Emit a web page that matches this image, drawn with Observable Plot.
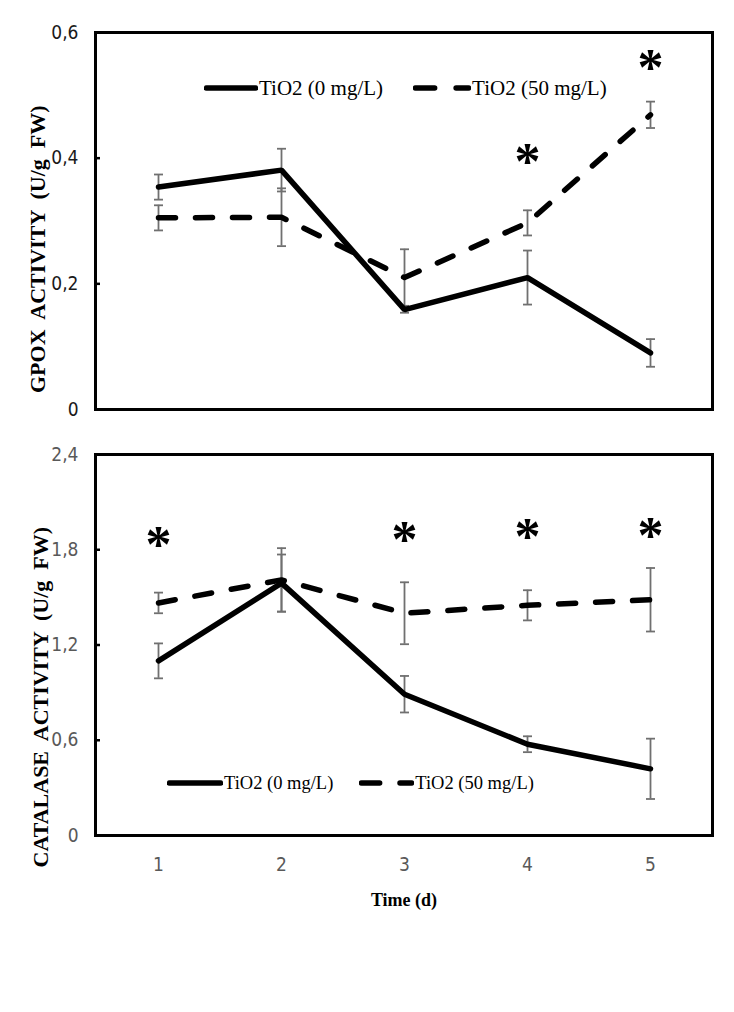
<!DOCTYPE html>
<html><head><meta charset="utf-8">
<script src="https://cdn.jsdelivr.net/npm/d3@7"></script>
<script src="https://cdn.jsdelivr.net/npm/@observablehq/plot@0.6"></script>
<style>
body{margin:0;background:#fff;}
#wrap{position:relative;width:734px;height:1012px;overflow:hidden;}
#wrap svg{display:block;}
.legend{position:absolute;font-family:"Liberation Serif","Times New Roman",serif;color:#000;white-space:nowrap;display:flex;align-items:center;}
.legend span{display:inline-block;}
</style></head><body><div id="wrap"></div>
<script>
// ---- data ----
const days = [1, 2, 3, 4, 5];
const seriesNames = ["TiO2 (0 mg/L)", "TiO2 (50 mg/L)"];

const gpoxCtrl    = [0.354, 0.381, 0.159, 0.210, 0.090];
const gpoxCtrlErr = [0.020, 0.034, 0.005, 0.043, 0.022];
const gpoxTrt     = [0.305, 0.306, 0.210, 0.297, 0.469];
const gpoxTrtErr  = [0.020, 0.046, 0.045, 0.020, 0.021];
const gpoxStarDays = [4, 5];
const gpoxStarY    = [0.409, 0.559];
const gpoxTicks = [0, 0.2, 0.4, 0.6];

const catCtrl    = [1.10, 1.59, 0.89, 0.575, 0.42];
const catCtrlErr = [0.11, 0.18, 0.115, 0.050, 0.19];
const catTrt     = [1.465, 1.61, 1.40, 1.45, 1.485];
const catTrtErr  = [0.065, 0.20, 0.195, 0.095, 0.20];
const catStarDays = [1, 3, 4, 5];
const catStarY    = [1.89, 1.92, 1.94, 1.95];
const catTicks = [0, 0.6, 1.2, 1.8, 2.4];

const gpoxTitle = "GPOX  ACTIVITY  (U/g  FW)";
const catTitle = "CATALASE  ACTIVITY  (U/g  FW)";
const xTitle = "Time (d)";

// ---- helpers ----
const serif = "Liberation Serif, Times New Roman, serif";
const narrow = "Liberation Sans Narrow, DejaVu Sans Condensed, Liberation Sans, sans-serif";
const fmt = d => d === 0 ? "0" : d.toFixed(1).replace(".", ",");
const capSymbol = {draw(ctx, size) { const r = Math.sqrt(size / Math.PI); ctx.moveTo(-r, 0); ctx.lineTo(r, 0); }};

function rows(vals, errs, s) {
  return days.map((d, i) => ({day: d, v: vals[i], e: errs[i], s}));
}

function panel(o) {
  const ctrl = rows(o.ctrl, o.ctrlErr, seriesNames[0]);
  const trt = rows(o.trt, o.trtErr, seriesNames[1]);
  const all = ctrl.concat(trt);
  const stars = o.starDays.map((d, i) => ({day: d, y: o.starY[i]}));
  const errStyle = {stroke: "#707070", strokeWidth: 1.8};
  const svg = Plot.plot({
    width: 734, height: o.height,
    marginLeft: 95, marginRight: 22, marginTop: o.marginTop, marginBottom: o.marginBottom,
    x: {type: "point", domain: days, padding: 0.5, axis: null},
    y: {domain: o.yDomain, axis: null},
    marks: [
      Plot.ruleX(all, {x: "day", y1: d => d.v - d.e, y2: d => d.v + d.e, ...errStyle}),
      Plot.dot(all, {x: "day", y: d => d.v - d.e, symbol: capSymbol, r: 4.5, fill: "none", ...errStyle}),
      Plot.dot(all, {x: "day", y: d => d.v + d.e, symbol: capSymbol, r: 4.5, fill: "none", ...errStyle}),
      Plot.line(ctrl, {x: "day", y: "v", stroke: "black", strokeWidth: 5.5, strokeLinejoin: "miter"}),
      Plot.line(trt, {x: "day", y: "v", stroke: "black", strokeWidth: 5.5, strokeDasharray: "17 20", strokeLinecap: "round"}),
      Plot.text(stars, {x: "day", y: "y", text: () => "*", fontSize: 52, fontWeight: "bold", fontFamily: serif, fill: "black", dy: 10}),
      Plot.axisY(o.yTicks, {tickSize: 0, tickPadding: 17, tickFormat: fmt, fontSize: 19, fontFamily: narrow, fill: o.tickColor}),
      Plot.tickY(o.yTicks, {y: d => d, insetRight: 612, stroke: "black", strokeWidth: 2.5}),
      o.xAxis ? Plot.axisX({tickSize: 0, tickPadding: 22, fontSize: 19, fontFamily: narrow, fill: "#595959", label: null}) : null,
      o.xAxis ? Plot.text([xTitle], {frameAnchor: "bottom", dy: 70, fontSize: 18, fontWeight: "bold", fontFamily: serif, fill: "black"}) : null,
      Plot.frame({stroke: "black", strokeWidth: 3}),
      Plot.text([o.title], {frameAnchor: "left", rotate: -90, textAnchor: "start", dx: o.titleDx, dy: o.titleDy + o.titleLen / 2, fontSize: 22, fontWeight: "bold", fontFamily: serif, fill: "black", ariaLabel: "ytitle"})
    ]
  });
  d3.select(svg).selectAll('g[aria-label="ytitle"] text')
    .attr("textLength", o.titleLen).attr("lengthAdjust", "spacing");
  return svg;
}

const wrap = document.getElementById("wrap");
wrap.appendChild(panel({
  height: 432, marginTop: 32, marginBottom: 23, yDomain: [0, 0.6], yTicks: gpoxTicks,
  tickColor: "#1a1a1a", ctrl: gpoxCtrl, ctrlErr: gpoxCtrlErr, trt: gpoxTrt, trtErr: gpoxTrtErr,
  starDays: gpoxStarDays, starY: gpoxStarY, title: gpoxTitle, titleDx: -58, titleDy: 2, titleLen: 340, xAxis: false
}));
wrap.appendChild(panel({
  height: 500, marginTop: 22, marginBottom: 97, yDomain: [0, 2.4], yTicks: catTicks,
  tickColor: "#595959", ctrl: catCtrl, ctrlErr: catCtrlErr, trt: catTrt, trtErr: catTrtErr,
  starDays: catStarDays, starY: catStarY, title: catTitle, titleDx: -55, titleDy: 18, titleLen: 409, xAxis: true
}));

// ---- legends (HTML overlay) ----
function legend(top, left, fontSize, solidW, dashW, gap) {
  const div = document.createElement("div");
  div.className = "legend";
  div.style.top = (top - fontSize) + "px";
  div.style.left = left + "px";
  div.style.height = (2 * fontSize) + "px";
  div.style.fontSize = fontSize + "px";
  const ns = "http://www.w3.org/2000/svg";
  function sample(w, dash) {
    const s = document.createElementNS(ns, "svg");
    s.setAttribute("width", w); s.setAttribute("height", 10);
    const l = document.createElementNS(ns, "line");
    l.setAttribute("x1", 2.5); l.setAttribute("x2", w - 2.5);
    l.setAttribute("y1", 5); l.setAttribute("y2", 5);
    l.setAttribute("stroke", "black"); l.setAttribute("stroke-width", 5.5);
    l.setAttribute("stroke-linecap", "round");
    if (dash) l.setAttribute("stroke-dasharray", dash);
    s.appendChild(l);
    return s;
  }
  div.appendChild(sample(solidW, null));
  const t1 = document.createElement("span"); t1.textContent = seriesNames[0]; t1.style.marginLeft = "1px";
  div.appendChild(t1);
  const sp = document.createElement("span"); sp.style.width = gap + "px"; div.appendChild(sp);
  div.appendChild(sample(dashW, (dashW * 0.33) + " " + (dashW * 0.37)));
  const t2 = document.createElement("span"); t2.textContent = seriesNames[1]; t2.style.marginLeft = "1px";
  div.appendChild(t2);
  wrap.appendChild(div);
}
legend(88, 204, 21, 54, 58, 30);
legend(783, 167, 18.5, 56, 55, 26);
</script>
</body></html>
